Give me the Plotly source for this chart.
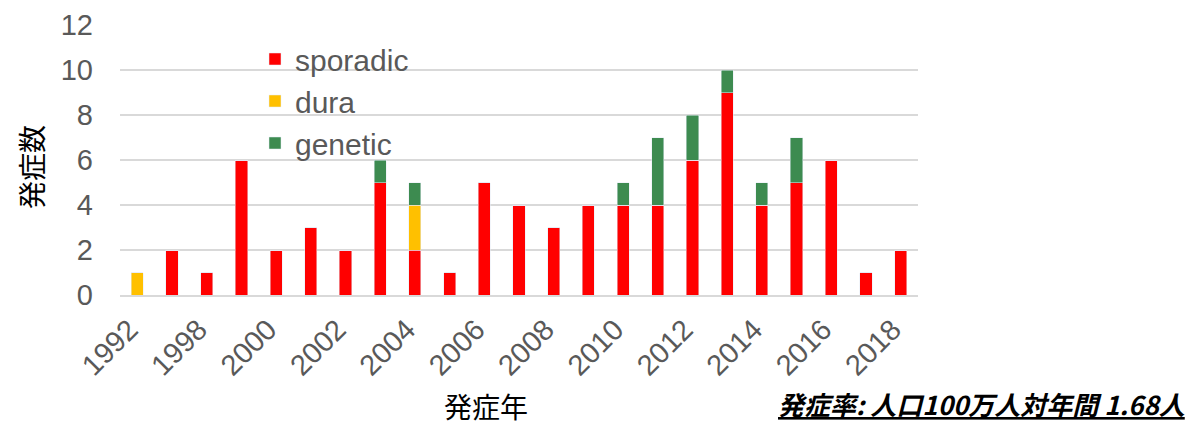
import plotly.graph_objects as go

years = ["1992", "1997", "1998", "1999", "2000", "2001", "2002", "2003", "2004", "2005",
         "2006", "2007", "2008", "2009", "2010", "2011", "2012", "2013", "2014", "2015",
         "2016", "2017", "2018"]
sporadic = [0, 2, 1, 6, 2, 3, 2, 5, 2, 1, 5, 4, 3, 4, 4, 4, 6, 9, 4, 5, 6, 1, 2]
dura =     [1, 0, 0, 0, 0, 0, 0, 0, 2, 0, 0, 0, 0, 0, 0, 0, 0, 0, 0, 0, 0, 0, 0]
genetic =  [0, 0, 0, 0, 0, 0, 0, 1, 1, 0, 0, 0, 0, 0, 1, 3, 2, 1, 1, 2, 0, 0, 0]
tick_labels = years[::2]

fig = go.Figure()
fig.add_bar(x=years, y=sporadic, name="sporadic", marker_color="#FF0000")
fig.add_bar(x=years, y=dura, name="dura", marker_color="#FFC000")
fig.add_bar(x=years, y=genetic, name="genetic", marker_color="#3D8B50")

font_lat = "Liberation Sans, Arial, sans-serif"
font_jp = "Noto Sans CJK JP, sans-serif"

# page body has an 8px default margin; figure is sized to fit the 1203x427 window
PL, PR, PT, PB = 120, 918, 25, 295  # intended plot area in window pixels


def px(xw):
    return (xw - PL) / (PR - PL)


def py(yw):
    return (PB - yw) / (PB - PT)


fig.update_layout(
    barmode="stack",
    bargap=0.65,
    width=1195, height=419,
    margin=dict(l=PL - 8, r=1203 - PR, t=PT - 8, b=427 - PB),
    plot_bgcolor="white", paper_bgcolor="white",
    font=dict(family=font_lat, color="#595959"),
    legend=dict(x=px(255), y=py(33), xanchor="left", yanchor="top",
                traceorder="normal", font=dict(size=30, color="#595959"),
                bgcolor="rgba(0,0,0,0)", tracegroupgap=0),
    xaxis=dict(type="category", tickmode="array", tickvals=tick_labels, ticktext=tick_labels,
               tickangle=-45, tickfont=dict(size=29, color="#595959"),
               showline=True, linecolor="#D9D9D9", linewidth=2, ticks="",
               ticklabelshift=-8, ticklabelstandoff=4,
               automargin=False),
    yaxis=dict(range=[0, 12], dtick=2, tickfont=dict(size=29, color="#595959"),
               showgrid=True, gridcolor="#D9D9D9", gridwidth=1.5, zeroline=False,
               ticks="", ticklabelstandoff=26, automargin=False),
    annotations=[
        dict(text="発症年", xref="paper", yref="paper",
             x=px(486), y=py(406), xanchor="center", yanchor="middle",
             showarrow=False, font=dict(family=font_jp, size=28, color="black")),
        dict(text="発症数", xref="paper", yref="paper", textangle=-90,
             x=px(31), y=py(167), xanchor="center", yanchor="middle",
             showarrow=False, font=dict(family=font_jp, size=28, color="black")),
        dict(text="<b><i><u>発症率: 人口100万人対年間 1.68人</u></i></b>",
             xref="paper", yref="paper", x=px(1187), y=py(403),
             xanchor="right", yanchor="middle", showarrow=False,
             font=dict(family=font_jp, size=26, color="black")),
    ],
)

fig.write_html("out.html")
